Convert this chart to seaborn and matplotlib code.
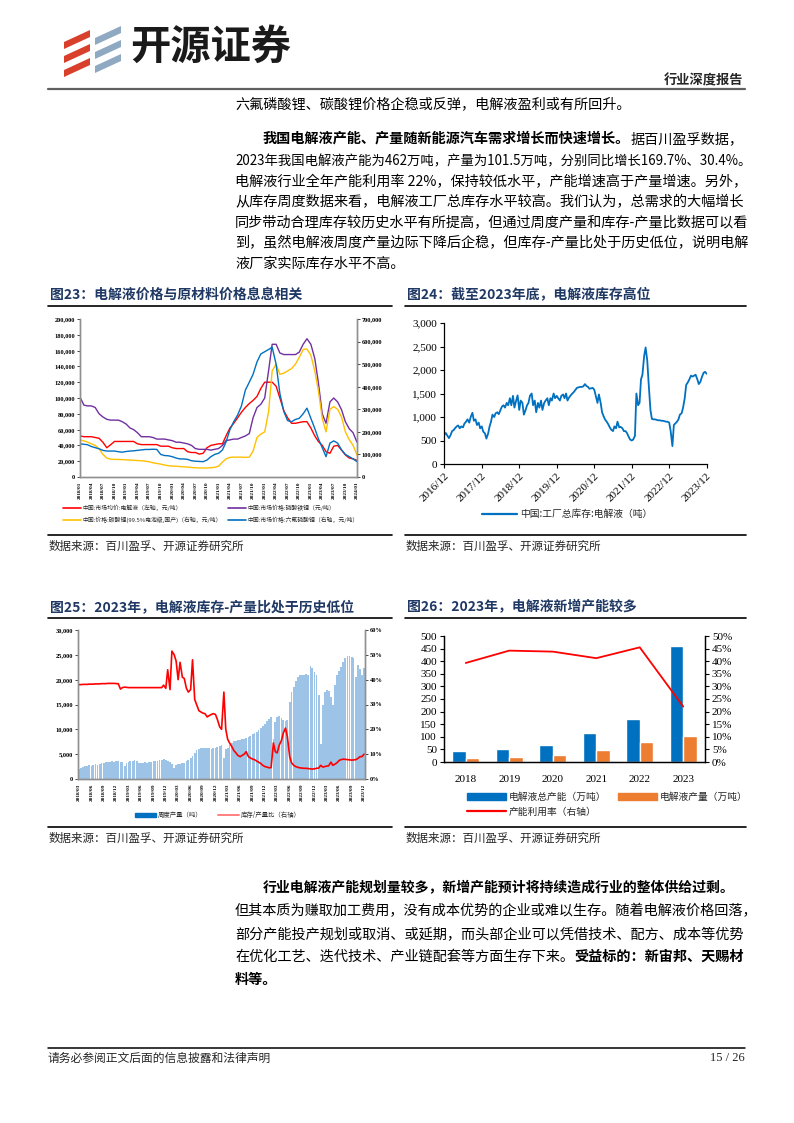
import numpy as np
import pandas as pd
import matplotlib
matplotlib.use("Agg")
import matplotlib.pyplot as plt
import seaborn as sns
from matplotlib.patches import Polygon, Rectangle
from matplotlib.lines import Line2D

# ---------------------------------------------------------------- data
# Fig 23 : monthly prices 2018/01 .. 2024/01 (thousand yuan / t)
electrolyte_k = [52, 51, 51, 51, 50, 49, 44, 37, 41, 45,
                 45, 45, 45, 45, 45, 42, 41, 41, 41, 41,
                 41, 39, 39, 39, 37, 36, 36, 36, 32, 31,
                 31, 29, 30, 37, 40, 41, 42, 42, 52, 62,
                 68, 75, 82, 88, 93, 97, 102, 112, 120, 120,
                 120, 115, 100, 84, 75, 68, 68, 69, 70, 70,
                 62, 52, 45, 40, 32, 30, 39, 40, 34, 28,
                 24, 23, 21]
lfp_k = [101, 91, 90, 90, 88, 80, 76, 73, 72, 72,
         72, 70, 67, 62, 60, 56, 51, 51, 51, 50,
         48, 48, 48, 47, 46, 44, 44, 43, 42, 40,
         36, 35, 35, 35, 34, 35, 36, 40, 46, 47,
         48, 48, 50, 52, 55, 75, 88, 92, 100, 135,
         168, 168, 157, 155, 155, 155, 155, 158, 168, 175,
         168, 150, 120, 80, 68, 95, 100, 95, 85, 70,
         61, 56, 44]
li2co3_k = [164, 160, 155, 147, 140, 125, 100, 84, 79, 78,
            78, 77, 76, 75, 74, 73, 72, 70, 68, 63,
            60, 57, 53, 50, 48, 48, 46, 45, 44, 42,
            41, 40, 40, 40, 41, 43, 48, 66, 80, 87,
            88, 88, 88, 87, 88, 115, 175, 190, 200, 290,
            470, 500, 455, 460, 470, 480, 500, 530, 565, 567,
            540, 470, 385, 260, 200, 300, 312, 300, 265, 200,
            165, 140, 97]
lipf6_k = [147, 145, 143, 135, 130, 125, 118, 115, 115, 115,
           112, 110, 113, 115, 116, 118, 120, 122, 122, 123,
           122, 100, 95, 94, 90, 84, 80, 80, 78, 72,
           70, 69, 68, 75, 90, 100, 105, 120, 155, 210,
           245, 275, 315, 385, 420, 455, 510, 545, 555, 565,
           575, 500, 370, 290, 250, 245, 255, 260, 280, 305,
           260, 215, 170, 130, 90, 150, 160, 150, 120, 100,
           90, 80, 68]
ticks23 = ["2018/01", "2018/04", "2018/07", "2018/10", "2019/01", "2019/04", "2019/07",
           "2019/10", "2020/01", "2020/04", "2020/07", "2020/10", "2021/01", "2021/04",
           "2021/07", "2021/10", "2022/01", "2022/04", "2022/07", "2022/10", "2023/01",
           "2023/04", "2023/07", "2023/10", "2024/01"]
legend23 = ["中国:市场均价:电解液（左轴，元/吨）", "中国:市场价格:磷酸铁锂（元/吨）",
            "中国:价格:碳酸锂(99.5%电池级,国产)（右轴，元/吨）", "中国:市场价格:六氟磷酸锂（右轴，元/吨）"]

# Fig 24 : factory inventory, half-monthly from 2016/12 to 2023/12 (t)
inventory = [620, 660, 600, 550, 620, 700, 720, 760, 800, 820,
             760, 800, 780, 860, 900, 950, 880, 1000, 1090, 920,
             950, 830, 880, 760, 800, 690, 650, 540, 650, 800,
             900, 1050, 1000, 1080, 1100, 1060, 1150, 1220, 1250, 1200,
             1300, 1250, 1400, 1250, 1450, 1200, 1350, 1460, 1150, 1350,
             1300, 1050, 1150, 1250, 1300, 1450, 1500, 1250, 1350, 1100,
             1300, 1200, 1350, 1150, 1300, 1350, 1400, 1250, 1400, 1350,
             1500, 1400, 1450, 1400, 1350, 1450, 1480, 1400, 1500, 1350,
             1420, 1460, 1500, 1530, 1580, 1620, 1630, 1640, 1640, 1650,
             1700, 1660, 1640, 1600, 1610, 1620, 1580, 1450, 1300, 1480,
             1300, 1100, 1020, 950, 900, 850, 780, 730, 700, 800,
             760, 900, 780, 790, 760, 700, 700, 660, 580, 520,
             500, 520, 600, 1500, 1250, 1300, 1800, 1900, 2300, 2480,
             2200, 1700, 1150, 960, 950, 950, 940, 930, 930, 920,
             920, 910, 900, 900, 880, 700, 380, 830, 870, 900,
             950, 1050, 1080, 1200, 1400, 1680, 1740, 1800, 1880, 1860,
             1880, 1900, 1800, 1700, 1750, 1850, 1940, 1960, 1920]
ticks24 = ["2016/12", "2017/12", "2018/12", "2019/12", "2020/12", "2021/12", "2022/12", "2023/12"]
legend24 = "中国:工厂总库存:电解液（吨）"

# Fig 25 : weekly output (t) and inventory/output ratio (%), half-monthly 2018/03 .. 2023/12
weekly_output = [2000, 2300, 2500, 2600, 2700, 2800, 2700, 2900, 3000, 2900,
                 3100, 3200, 3300, 3400, 3500, 3400, 3600, 3500, 3600, 3700,
                 3400, 3500, 2700, 3200, 3400, 3600, 3700, 3900, 3700, 3300,
                 3200, 3300, 3400, 3300, 3400, 3500, 3600, 3700, 3600, 3800,
                 3900, 4000, 3800, 3700, 3400, 3100, 2200, 2800, 3000, 3100,
                 3200, 3300, 3600, 3900, 4300, 4600, 5200, 5800, 6100, 6200,
                 6300, 6200, 6300, 6200, 6100, 6200, 6300, 6500, 6700, 6800,
                 4300, 6000, 6300, 6800, 7200, 7600, 7700, 7800, 7900, 8000,
                 8100, 8300, 8500, 8700, 9000, 9300, 9500, 9800, 10200, 10600,
                 11000, 11600, 12000, 12400, 8000, 11500, 12400, 12600, 12200, 11800,
                 11700, 11800, 15500, 17500, 18500, 19800, 20600, 20900, 21000, 21000,
                 21100, 21000, 22800, 22300, 21500, 21000, 17000, 7000, 15000, 17500,
                 18000, 17800, 16500, 14800, 19000, 21000, 21800, 22500, 23500, 24300,
                 24700, 24700, 24600, 24400, 20500, 23000, 22200, 21000, 22300]
stock_ratio = [38.0, 38.0, 38.1, 38.1, 38.1, 38.2, 38.2, 38.2, 38.3, 38.3,
               38.3, 38.4, 38.4, 38.4, 38.5, 38.5, 38.5, 38.5, 38.4, 38.4,
               36.2, 36.8, 37.0, 36.9, 36.8, 36.8, 36.8, 36.8, 36.8, 36.8,
               36.8, 36.8, 36.8, 36.8, 36.8, 36.8, 36.8, 36.8, 36.8, 36.8,
               36.8, 37.8, 36.5, 44.0, 36.0, 51.5, 50.0, 47.5, 40.0, 47.0,
               41.0, 40.5, 36.5, 35.0, 36.0, 48.0, 32.0, 30.0, 27.5, 27.0,
               26.5, 26.3, 25.0, 25.5, 26.0, 26.3, 26.0, 24.0, 21.0, 20.0,
               35.0, 20.0, 16.0, 14.5, 13.0, 11.5, 10.5, 9.5, 9.0, 9.5,
               10.0, 11.0, 9.0, 8.5, 8.0, 7.8, 7.2, 6.8, 6.2, 5.5,
               5.0, 4.8, 4.5, 4.6, 14.5, 11.0, 10.5, 13.5, 15.5, 18.5,
               20.5, 17.0, 9.0, 6.5, 5.5, 5.0, 4.7, 4.5, 4.4, 4.3,
               4.3, 4.2, 4.1, 4.0, 4.1, 4.3, 4.4, 5.5, 4.8, 5.0,
               5.2, 5.3, 6.8, 5.5, 6.0, 6.5, 7.5, 7.8, 8.0, 7.9,
               7.8, 7.7, 7.6, 7.7, 7.8, 8.2, 9.0, 9.0, 10.0]
ticks25 = ["2018/03", "2018/06", "2018/09", "2018/12", "2019/03", "2019/06", "2019/09", "2019/12",
           "2020/03", "2020/06", "2020/09", "2020/12", "2021/03", "2021/06", "2021/09", "2021/12",
           "2022/03", "2022/06", "2022/09", "2022/12", "2023/03", "2023/06", "2023/09", "2023/12"]
legend25 = ["周度产量（吨）", "库存/产量比（右轴）"]

# Fig 26 : annual capacity / output (10k t) and utilisation (%)
years26 = ["2018", "2019", "2020", "2021", "2022", "2023"]
capacity26 = [45, 52, 68, 116, 171, 462]
output26 = [17.5, 21.5, 29.5, 47.5, 77.5, 101.5]
utilisation26 = [39.3, 44.2, 43.8, 41.2, 45.5, 22.0]
legend26 = ["电解液总产能（万吨）", "电解液产量（万吨）", "产能利用率（右轴）"]

# ---------------------------------------------------------------- style
sns.set_theme(style="white")
CJK = ["Noto Sans CJK SC", "DejaVu Sans"]
SERIF = ["Liberation Serif", "DejaVu Serif"]
plt.rcParams["font.family"] = CJK
plt.rcParams["axes.unicode_minus"] = False

C_RED = "#FF0000"
C_PURPLE = "#7030A0"
C_YELLOW = "#FFC000"
C_BLUE = "#0070C0"
C_ORANGE = "#ED7D31"
C_LBLUE = "#9DC3E6"
C_NAVY = "#1F3864"

W, H = 794, 1123
fig = plt.figure(figsize=(W / 100, H / 100), dpi=100)
bg = fig.add_axes([0, 0, 1, 1], zorder=-5)
bg.set_xlim(0, W)
bg.set_ylim(H, 0)
bg.axis("off")
renderer = fig.canvas.get_renderer()


def px_axes(x0, y0, x1, y1):
    return fig.add_axes([x0 / W, 1 - y1 / H, (x1 - x0) / W, (y1 - y0) / H])


def text_line(x, y, segments, size=10.2):
    """segments: list of (text, bold)"""
    for s, bold in segments:
        t = bg.text(x, y, s, fontsize=size, fontweight="bold" if bold else "normal",
                    va="center", ha="left", color="black", family=CJK)
        x += t.get_window_extent(renderer).width


# ---------------------------------------------------------------- header
for y in (30, 44, 58):
    bg.add_patch(Polygon([(64, y + 12), (90, y), (90, y + 7), (64, y + 19)],
                         closed=True, color="#D9402B", lw=0))
for y in (26, 40, 54):
    bg.add_patch(Polygon([(95, y + 12), (121, y), (121, y + 7), (95, y + 19)],
                         closed=True, color="#8EA9C1", lw=0))
bg.text(130, 47, "开源证券", fontsize=29, fontweight="bold", va="center", ha="left",
        color="#1a1a1a", family=CJK)
bg.text(743, 80, "行业深度报告", fontsize=9.5, fontweight="bold", va="center", ha="right",
        family=CJK)
bg.plot([48, 745], [88.5, 88.5], color="#606060", lw=1.6)

# ---------------------------------------------------------------- body text (top)
text_line(235, 104, [("六氟磷酸锂、碳酸锂价格企稳或反弹，电解液盈利或有所回升。", False)])
text_line(263, 139, [("我国电解液产能、产量随新能源汽车需求增长而快速增长。", True),
                     ("据百川盈孚数据，", False)])
text_line(235, 161, [("2023年我国电解液产能为462万吨，产量为101.5万吨，分别同比增长169.7%、30.4%。", False)],
          size=9.6)
text_line(235, 182, [("电解液行业全年产能利用率 22%，保持较低水平，产能增速高于产量增速。另外，", False)])
text_line(235, 202, [("从库存周度数据来看，电解液工厂总库存水平较高。我们认为，总需求的大幅增长", False)])
text_line(235, 223, [("同步带动合理库存较历史水平有所提高，但通过周度产量和库存-产量比数据可以看", False)])
text_line(235, 243, [("到，虽然电解液周度产量边际下降后企稳，但库存-产量比处于历史低位，说明电解", False)])
text_line(235, 264, [("液厂家实际库存水平不高。", False)])

# ---------------------------------------------------------------- frames, titles, sources
SRC = "数据来源：百川盈孚、开源证券研究所"
for (x0, x1, ty, title) in [(48, 392, 295, "图23：电解液价格与原材料价格息息相关"),
                            (405, 746, 295, "图24：截至2023年底，电解液库存高位"),
                            (48, 392, 607, "图25：2023年，电解液库存-产量比处于历史低位"),
                            (405, 746, 607, "图26：2023年，电解液新增产能较多")]:
    bg.text(x0 + 2, ty, title, fontsize=10, fontweight="bold", color=C_NAVY,
            va="center", ha="left", family=CJK)
    rule_top = ty + 11
    rule_bot = 535 if ty < 400 else 827
    bg.plot([x0, x1], [rule_top, rule_top], color="black", lw=1.2)
    bg.plot([x0, x1], [rule_bot, rule_bot], color="black", lw=1.2)
    bg.text(x0 + 1, rule_bot + 11, SRC, fontsize=8.3, va="center", ha="left", family=CJK)

# ---------------------------------------------------------------- Fig 23
d23 = pd.date_range("2018-01-01", periods=len(electrolyte_k), freq="MS")
ax = px_axes(80, 319, 357, 477)
sns.lineplot(x=d23, y=np.array(electrolyte_k) * 1000, ax=ax, color=C_RED, lw=1.0, legend=False)
sns.lineplot(x=d23, y=np.array(lfp_k) * 1000, ax=ax, color=C_PURPLE, lw=1.0, legend=False)
ax.set_ylim(0, 200000)
ax.set_xlim(d23[0], d23[-1])
yt = list(range(0, 200001, 20000))
ax.set_yticks(yt)
ax.set_yticklabels([f"{v:,}" for v in yt], fontsize=4.6, fontfamily=SERIF, fontweight="bold")
ax.set_xticks(pd.to_datetime(ticks23, format="%Y/%m"))
ax.set_xticklabels(ticks23, rotation=90, fontsize=3.8, fontfamily=SERIF, fontweight="bold")
ax.set_xlabel("")
ax.set_ylabel("")
axr = ax.twinx()
sns.lineplot(x=d23, y=np.array(li2co3_k) * 1000, ax=axr, color=C_YELLOW, lw=1.0, legend=False)
sns.lineplot(x=d23, y=np.array(lipf6_k) * 1000, ax=axr, color=C_BLUE, lw=1.0, legend=False)
axr.set_ylim(0, 700000)
ytr = list(range(0, 700001, 100000))
axr.set_yticks(ytr)
axr.set_yticklabels([f"{v:,}" for v in ytr], fontsize=4.6, fontfamily=SERIF, fontweight="bold")
axr.set_ylabel("")
for a in (ax, axr):
    a.spines["top"].set_visible(False)
    for s in ("left", "right", "bottom"):
        a.spines[s].set_color("#909090")
        a.spines[s].set_linewidth(1.0)
    a.tick_params(axis="both", length=2, width=0.5, pad=1.5, colors="black")
    a.set_facecolor("none")
ax.tick_params(axis="x", length=2, pad=1)
h23 = {c: Line2D([], [], color=c, lw=1.2) for c in (C_RED, C_PURPLE, C_YELLOW, C_BLUE)}
# column-wise fill: row 1 = red, purple ; row 2 = yellow, blue
fig.legend([h23[C_RED], h23[C_YELLOW], h23[C_PURPLE], h23[C_BLUE]],
           [legend23[0], legend23[2], legend23[1], legend23[3]],
           ncol=2, loc="center", bbox_to_anchor=(211 / W, 1 - 514 / H),
           frameon=False, handlelength=3.0, columnspacing=1.0,
           handletextpad=0.3, labelspacing=1.0, prop={"family": CJK, "size": 4.2})

# ---------------------------------------------------------------- Fig 24
d24 = pd.date_range("2016-12-01", periods=len(inventory), freq="SMS")
ax = px_axes(444, 323, 707, 464)
sns.lineplot(x=d24, y=inventory, ax=ax, color=C_BLUE, lw=1.3, legend=False)
ax.set_ylim(0, 3000)
ax.set_xlim(d24[0] - pd.Timedelta(days=3), d24[-1] + pd.Timedelta(days=3))
yt = list(range(0, 3001, 500))
ax.set_yticks(yt)
ax.set_yticklabels([f"{v:,}" for v in yt], fontsize=8, fontfamily=SERIF)
ax.set_xticks(pd.to_datetime(ticks24, format="%Y/%m"))
ax.set_xticklabels(ticks24, rotation=45, ha="right", rotation_mode="anchor",
                   fontsize=8, fontfamily=SERIF)
ax.set_xlabel("")
ax.set_ylabel("")
ax.spines["top"].set_visible(False)
ax.spines["right"].set_visible(False)
for s in ("left", "bottom"):
    ax.spines[s].set_color("black")
    ax.spines[s].set_linewidth(0.9)
ax.tick_params(axis="both", length=3, width=0.8, pad=2, colors="black", direction="out")
ax.tick_params(axis="y", left=True)
ax.tick_params(axis="x", bottom=True)
ax.set_facecolor("none")
fig.legend([Line2D([], [], color=C_BLUE, lw=1.6)], [legend24], loc="center",
           bbox_to_anchor=(567 / W, 1 - 514 / H), frameon=False, handlelength=3.6,
           handletextpad=0.3, prop={"family": CJK, "size": 7})

# ---------------------------------------------------------------- Fig 25
d25 = pd.date_range("2018-03-01", periods=len(weekly_output), freq="SMS")
ax = px_axes(78, 630, 365, 779)
ax.bar(d25, weekly_output, width=13, color=C_LBLUE, lw=0, align="center")
ax.set_ylim(0, 30000)
ax.set_xlim(d25[0] - pd.Timedelta(days=7), d25[-1] + pd.Timedelta(days=7))
yt = list(range(0, 30001, 5000))
ax.set_yticks(yt)
ax.set_yticklabels([f"{v:,}" for v in yt], fontsize=4.6, fontfamily=SERIF, fontweight="bold")
ax.set_xticks(pd.to_datetime(ticks25, format="%Y/%m"))
ax.set_xticklabels(ticks25, rotation=90, fontsize=3.8, fontfamily=SERIF, fontweight="bold")
axr = ax.twinx()
sns.lineplot(x=d25, y=stock_ratio, ax=axr, color=C_RED, lw=1.2, legend=False)
axr.set_ylim(0, 60)
ytr = list(range(0, 61, 10))
axr.set_yticks(ytr)
axr.set_yticklabels([f"{v}%" for v in ytr], fontsize=4.6, fontfamily=SERIF, fontweight="bold")
axr.set_ylabel("")
ax.set_ylabel("")
ax.set_xlabel("")
for a in (ax, axr):
    a.spines["top"].set_visible(False)
    for s in ("left", "right", "bottom"):
        a.spines[s].set_color("#909090")
        a.spines[s].set_linewidth(1.0)
    a.tick_params(axis="both", length=2, width=0.5, pad=1.5, colors="black")
    a.set_facecolor("none")
h25 = [Rectangle((0, 0), 1, 1, color=C_BLUE), Line2D([], [], color="#FF8080", lw=1.4)]
fig.legend(h25, legend25, ncol=2, loc="center", bbox_to_anchor=(218 / W, 1 - 815 / H),
           frameon=False, handlelength=3.2, handleheight=0.6, columnspacing=2.5,
           handletextpad=0.3, prop={"family": CJK, "size": 4.6})

# ---------------------------------------------------------------- Fig 26
df26 = pd.DataFrame({
    "year": years26 + years26,
    "series": [legend26[0]] * len(years26) + [legend26[1]] * len(years26),
    "value": capacity26 + output26,
})
ax = px_axes(444, 636, 705, 762)
sns.barplot(data=df26, x="year", y="value", hue="series", palette=[C_BLUE, C_ORANGE],
            width=0.62, ax=ax, legend=False, errorbar=None, saturation=1)
ax.set_ylim(0, 500)
yt = list(range(0, 501, 50))
ax.set_yticks(yt)
ax.set_yticklabels([str(v) for v in yt], fontsize=8, fontfamily=SERIF)
ax.set_xticks(range(len(years26)))
ax.set_xticklabels(years26, fontsize=8, fontfamily=SERIF)
ax.set_xlabel("")
ax.set_ylabel("")
axr = ax.twinx()
sns.lineplot(x=list(range(len(years26))), y=utilisation26, ax=axr, color=C_RED, lw=1.3,
             legend=False)
axr.set_ylim(0, 50)
ytr = list(range(0, 51, 5))
axr.set_yticks(ytr)
axr.set_yticklabels([f"{v}%" for v in ytr], fontsize=8, fontfamily=SERIF)
axr.set_ylabel("")
ax.set_xlim(-0.5, len(years26) - 0.5)
for a in (ax, axr):
    a.spines["top"].set_visible(False)
    for s in ("left", "right", "bottom"):
        a.spines[s].set_color("black")
        a.spines[s].set_linewidth(0.9)
    a.tick_params(axis="both", length=3, width=0.8, pad=2, colors="black", direction="out")
    a.set_facecolor("none")
ax.tick_params(axis="x", bottom=False, pad=6)
ax.tick_params(axis="y", left=True)
axr.tick_params(axis="y", right=True)
h26 = [Rectangle((0, 0), 1, 1, color=C_BLUE), Line2D([], [], color=C_RED, lw=1.6),
       Rectangle((0, 0), 1, 1, color=C_ORANGE)]
fig.legend(h26, [legend26[0], legend26[2], legend26[1]], ncol=2, loc="upper left",
           bbox_to_anchor=(458 / W, 1 - 783 / H), frameon=False, handlelength=4.0,
           handleheight=0.7, columnspacing=1.2, handletextpad=0.3, labelspacing=0.5,
           prop={"family": CJK, "size": 7})

# ---------------------------------------------------------------- body text (bottom)
text_line(263, 888, [("行业电解液产能规划量较多，新增产能预计将持续造成行业的整体供给过剩。", True)], size=10)
text_line(235, 911, [("但其本质为赚取加工费用，没有成本优势的企业或难以生存。随着电解液价格回落，", False)])
text_line(235, 934, [("部分产能投产规划或取消、或延期，而头部企业可以凭借技术、配方、成本等优势", False)])
text_line(235, 957, [("在优化工艺、迭代技术、产业链配套等方面生存下来。", False),
                     ("受益标的：新宙邦、天赐材", True)])
text_line(235, 980, [("料等。", True)])

# ---------------------------------------------------------------- footer
bg.plot([48, 745], [1048, 1048], color="black", lw=1.1)
bg.text(48, 1058, "请务必参阅正文后面的信息披露和法律声明", fontsize=8.5, va="center",
        ha="left", family=CJK)
bg.text(745, 1058, "15 / 26", fontsize=9, va="center", ha="right", family=SERIF)

fig.savefig("out.png", dpi=100)
